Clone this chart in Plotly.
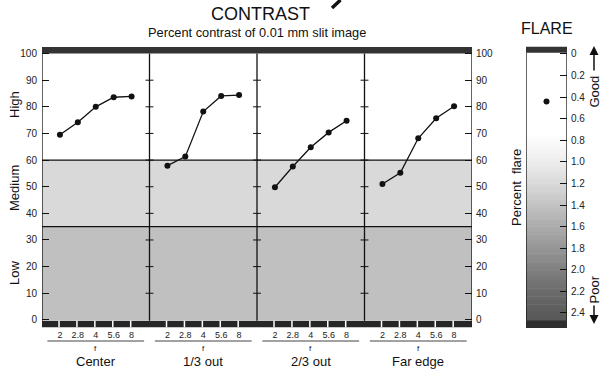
import numpy as np
import plotly.graph_objects as go

# ---------------- data ----------------
positions = ["Center", "1/3 out", "2/3 out", "Far edge"]
f_stops = ["2", "2.8", "4", "5.6", "8"]
contrast_center = [69.5, 74.2, 80.0, 83.6, 83.9]
contrast_third = [57.9, 61.3, 78.2, 84.1, 84.4]
contrast_two_third = [49.8, 57.6, 64.8, 70.4, 74.8]
contrast_far = [51.0, 55.2, 68.2, 75.7, 80.2]
contrast_series = [contrast_center, contrast_third, contrast_two_third, contrast_far]
band_limits = [0, 35, 60, 100]          # Low / Medium / High
band_names = ["Low", "Medium", "High"]
contrast_ticks = list(range(0, 101, 10))
flare_value = [0.44]
flare_ticks = [round(0.2 * i, 1) for i in range(13)]
flare_tick_text = ["0"] + [f"{v:.1f}" for v in flare_ticks[1:]]

W, H = 602, 369
FONT = "Liberation Sans, Arial, sans-serif"
INK = "#111111"

def py(p):
    return 1 - p / H

n_f = len(f_stops)
span = n_f + 1  # width of one panel in x units

fig = go.Figure()

# contrast lines
xs_all, labels_all = [], []
for i, series in enumerate(contrast_series):
    xs = [i * span + k + 1 for k in range(n_f)]
    xs_all += xs
    labels_all += f_stops
    fig.add_trace(go.Scatter(
        x=xs, y=series, mode="lines+markers",
        line=dict(color=INK, width=1.3),
        marker=dict(color=INK, size=6),
        xaxis="x", yaxis="y", showlegend=False, hoverinfo="skip"))

# flare dot
fig.add_trace(go.Scatter(
    x=[0.5], y=flare_value, mode="markers",
    marker=dict(color=INK, size=6),
    xaxis="x3", yaxis="y3", showlegend=False, hoverinfo="skip"))

# invisible trace on y2 so the right axis renders
fig.add_trace(go.Scatter(x=[0], y=[50], mode="markers", marker=dict(opacity=0),
                         xaxis="x", yaxis="y2", showlegend=False, hoverinfo="skip"))

xmax = span * len(positions)
shapes = []
band_colors = ["#c0c0c0", "#d9d9d9", "#ffffff"]
for (lo, hi), col in zip(zip(band_limits[:-1], band_limits[1:]), band_colors):
    shapes.append(dict(type="rect", xref="x", yref="y", x0=0, x1=xmax, y0=lo, y1=hi,
                       fillcolor=col, line=dict(width=0), layer="below"))
for b in band_limits[1:-1]:
    shapes.append(dict(type="line", xref="x", yref="y", x0=0, x1=xmax, y0=b, y1=b,
                       line=dict(color=INK, width=1.2), layer="below"))
# top and bottom dark bars
shapes.append(dict(type="rect", xref="x", yref="y", x0=0, x1=xmax, y0=100, y1=102.5,
                   fillcolor="#333333", line=dict(width=0), layer="below"))
shapes.append(dict(type="rect", xref="x", yref="y", x0=0, x1=xmax, y0=-2.9, y1=-0.3,
                   fillcolor="#262626", line=dict(width=0), layer="below"))
for x in xs_all:
    shapes.append(dict(type="line", xref="x", yref="y", x0=x - 0.05, x1=x - 0.05, y0=-2.9, y1=-0.3,
                       line=dict(color="white", width=1.5), layer="below"))
# outer borders and panel dividers
for i in range(len(positions) + 1):
    shapes.append(dict(type="line", xref="x", yref="y", x0=i * span, x1=i * span, y0=-0.3, y1=100,
                       line=dict(color=INK, width=1.3), layer="below"))
# ticks on dividers
for i in range(1, len(positions)):
    for t in contrast_ticks[1:-1]:
        shapes.append(dict(type="line", xref="x", yref="y", x0=i * span - 0.22, x1=i * span + 0.22,
                           y0=t, y1=t, line=dict(color=INK, width=1), layer="below"))
# underlines under f-stop labels
for i in range(len(positions)):
    shapes.append(dict(type="line", xref="x", yref="paper", x0=i * span + 0.3, x1=i * span + span - 0.3,
                       y0=py(341), y1=py(341), line=dict(color="#444444", width=1)))
# fragment of a cut-off heading letter at the very top
shapes.append(dict(type="line", xref="paper", yref="paper", x0=340.5 / W, x1=332 / W,
                   y0=py(0), y1=py(8), line=dict(color=INK, width=3.5)))

# flare gradient
fy_lo, fy_hi = -0.07, 2.54
stops_v = [0.0, 0.75, 1.0, 1.2, 1.4, 1.6, 1.8, 2.0, 2.2, 2.4, 2.54]
stops_g = [255, 255, 238, 218, 195, 172, 150, 128, 108, 92, 85]
edges = np.linspace(0, 2.47, 100)
for a, b in zip(edges[:-1], edges[1:]):
    g = int(np.interp((a + b) / 2, stops_v, stops_g))
    shapes.append(dict(type="rect", xref="x3", yref="y3", x0=0, x1=1, y0=a, y1=b + 0.005,
                       fillcolor=f"rgb({g},{g},{g})", line=dict(width=0), layer="below"))
shapes.append(dict(type="rect", xref="x3", yref="y3", x0=0, x1=1, y0=fy_lo, y1=-0.01,
                   fillcolor="#333333", line=dict(width=0), layer="below"))
shapes.append(dict(type="rect", xref="x3", yref="y3", x0=0, x1=1, y0=2.47, y1=fy_hi,
                   fillcolor="#2e2e2e", line=dict(width=0), layer="below"))
for xv in (0, 1):
    shapes.append(dict(type="line", xref="x3", yref="y3", x0=xv, x1=xv, y0=-0.01, y1=2.47,
                       line=dict(color=INK, width=1.3), layer="below"))

annotations = []
def txt(text, x, y, size, angle=0, xref="paper", **kw):
    annotations.append(dict(text=text, x=x, y=y, xref=xref, yref="paper", showarrow=False,
                            textangle=angle, font=dict(family=FONT, size=size, color=INK),
                            xanchor="center", yanchor="middle", **kw))

txt("CONTRAST", 260 / W, py(14), 18)
txt("Percent contrast of 0.01 mm slit image", 257 / W, py(32), 12.8)
txt("FLARE", 547 / W, py(28.5), 16)
txt("High", 14 / W, py(105), 13, -90)
txt("Medium", 14 / W, py(188), 13, -90)
txt("Low", 14 / W, py(273), 13, -90)
txt("Percent  flare", 516 / W, py(188), 13, -90)
txt("Good", 593.5 / W, py(92), 13, -90)
txt("Poor", 593.5 / W, py(290), 13, -90)
for i, name in enumerate(positions):
    txt("f", i * span + span / 2, py(348.5), 8, xref="x")
    txt(name, i * span + span / 2, py(361), 13, xref="x")
# arrows
annotations.append(dict(x=594 / W, y=py(46), xref="paper", yref="paper", ax=0, ay=26, text="",
                        showarrow=True, arrowhead=2, arrowsize=1.2, arrowwidth=1.5, arrowcolor=INK))
annotations.append(dict(x=594 / W, y=py(324), xref="paper", yref="paper", ax=0, ay=-20, text="",
                        showarrow=True, arrowhead=2, arrowsize=1.2, arrowwidth=1.5, arrowcolor=INK))

main_y_dom = [py(327.6), py(46.9)]
yax_common = dict(range=[-2.9, 102.5], domain=main_y_dom, tickvals=contrast_ticks,
                  ticks="inside", ticklen=7, tickcolor=INK, tickwidth=1,
                  showgrid=False, zeroline=False, showline=False,
                  tickfont=dict(family=FONT, size=10, color="#222222"))

fig.update_layout(
    width=W, height=H, margin=dict(l=0, r=0, t=0, b=0),
    paper_bgcolor="white", plot_bgcolor="rgba(0,0,0,0)",
    font=dict(family=FONT, color=INK),
    xaxis=dict(domain=[42 / W, 472 / W], range=[0, xmax], anchor="y",
               tickvals=xs_all, ticktext=labels_all, ticks="", showgrid=False,
               zeroline=False, showline=False,
               tickfont=dict(family=FONT, size=9, color="#222222")),
    yaxis=dict(anchor="x", side="left", ticklabelstandoff=4, **yax_common),
    yaxis2=dict(anchor="x", overlaying="y", side="right", ticklabelstandoff=3, **yax_common),
    xaxis3=dict(domain=[526 / W, 567 / W], range=[0, 1], anchor="y3",
                showticklabels=False, ticks="", showgrid=False, zeroline=False, showline=False),
    yaxis3=dict(domain=[py(328), py(46.4)], range=[fy_hi, fy_lo], anchor="x3", side="right",
                tickvals=flare_ticks, ticktext=flare_tick_text, ticks="inside", ticklen=7,
                tickcolor=INK, showgrid=False, zeroline=False, showline=False, ticklabelstandoff=3,
                tickfont=dict(family=FONT, size=10, color="#222222")),
    shapes=shapes, annotations=annotations,
)

fig.write_html("out.html", config={"displayModeBar": False},
               post_script="document.body.style.margin='0';")
